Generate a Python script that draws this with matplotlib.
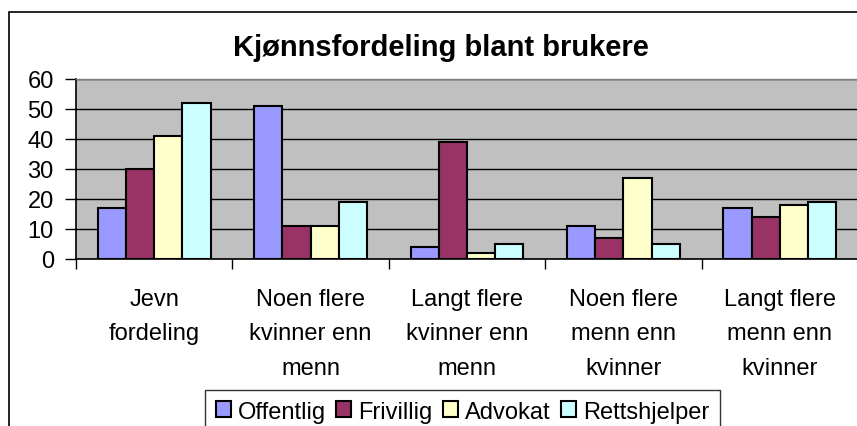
import matplotlib
matplotlib.use("Agg")
import matplotlib.pyplot as plt
import numpy as np
from matplotlib.patches import Rectangle

categories = ["Jevn\nfordeling", "Noen flere\nkvinner enn\nmenn", "Langt flere\nkvinner enn\nmenn",
              "Noen flere\nmenn enn\nkvinner", "Langt flere\nmenn enn\nkvinner"]
series_names = ["Offentlig", "Frivillig", "Advokat", "Rettshjelper"]
offentlig = [17, 51, 4, 11, 17]
frivillig = [30, 11, 39, 7, 14]
advokat = [41, 11, 2, 27, 18]
rettshjelper = [52, 19, 5, 5, 19]
y_ticks = [0, 10, 20, 30, 40, 50, 60]
title = "Kjønnsfordeling blant brukere"

colors = ["#9999FF", "#993366", "#FFFFCC", "#CCFFFF"]

plt.rcParams['font.family'] = ['Liberation Sans', 'DejaVu Sans']

W, H = 857, 427
fig = plt.figure(figsize=(W / 100, H / 100), dpi=100)
fig.patch.set_facecolor("white")

left, right, top, bottom = 76, 858, 80, 260
ax = fig.add_axes([left / W, 1 - bottom / H, (right - left) / W, (bottom - top) / H])
ax.set_facecolor("#C0C0C0")

x = np.arange(len(categories))
bw = 0.18
data = [offentlig, frivillig, advokat, rettshjelper]
for i, (vals, c, name) in enumerate(zip(data, colors, series_names)):
    ax.bar(x + (i - 1.5) * bw, vals, width=bw, color=c, edgecolor="black",
           linewidth=1.5, label=name, zorder=3)

ax.set_xlim(-0.5, len(categories) - 0.5)
ax.set_ylim(0, 60)
ax.set_yticks(y_ticks)
ax.set_yticklabels([str(v) for v in y_ticks], fontsize=17)
ax.yaxis.grid(True, color="black", linewidth=1.0, zorder=1)
ax.set_axisbelow(True)

ax.set_xticks(np.arange(-0.5, len(categories), 1.0))
ax.set_xticklabels([])
ax.set_xticks(x, minor=True)
ax.set_xticklabels(categories, minor=True, fontsize=17, linespacing=1.72)
ax.tick_params(axis="x", which="minor", length=0, pad=21)
ax.tick_params(axis="x", which="major", length=7, width=1, direction="out")
ax.tick_params(axis="y", length=8, width=1, direction="out", pad=8)

for s in ["left", "bottom"]:
    ax.spines[s].set_color("black")
    ax.spines[s].set_linewidth(1.2)
for s in ["top", "right"]:
    ax.spines[s].set_color("#808080")
    ax.spines[s].set_linewidth(1.0)

fig.text(441 / W, 1 - 48 / H, title, ha="center", va="center",
         fontsize=21, fontweight="bold")

# outer chart border
fig.add_artist(Rectangle((8.5 / W, -0.1), 1.2, (H - 13) / H + 0.1, transform=fig.transFigure,
                         fill=False, edgecolor="black", linewidth=1.2, clip_on=False))

leg = fig.legend(loc="upper left", bbox_to_anchor=(205 / W, 1 - 391 / H), ncol=4,
                 fontsize=17, frameon=True, fancybox=False, edgecolor="black",
                 handlelength=0.65, handleheight=0.65, handletextpad=0.3,
                 columnspacing=0.42, borderpad=0.45, borderaxespad=0)
leg.get_frame().set_linewidth(1.0)

fig.savefig("out.png", dpi=100)
